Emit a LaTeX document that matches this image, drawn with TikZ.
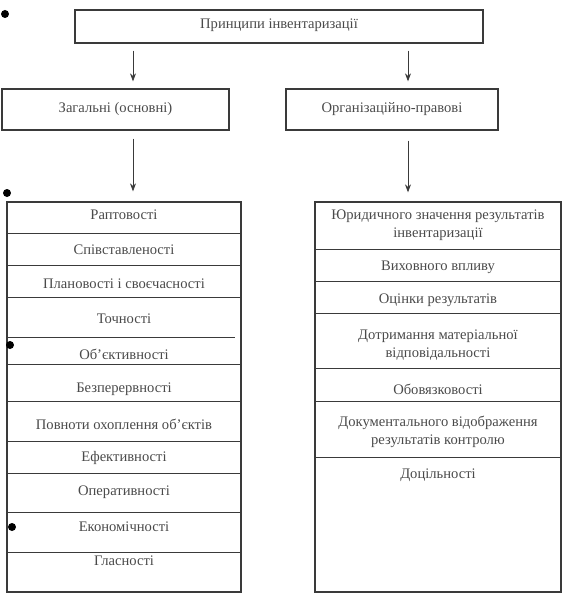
\documentclass[tikz,border=0pt]{standalone}
\usepackage{fontspec}
\setmainfont{Liberation Serif}
\usetikzlibrary{arrows.meta}
\definecolor{linec}{HTML}{3A3A3A}
\definecolor{txtc}{HTML}{4A4A4A}
\begin{document}
\begin{tikzpicture}[x=1pt,y=-1pt,
  box/.style={draw=linec, line width=1.3pt, inner sep=0pt, rectangle},
  lbl/.style={text=txtc, font=\fontsize{14.6}{18}\selectfont, align=center, inner sep=0pt},
  divider/.style={draw=linec, line width=0.7pt},
  arr/.style={draw=linec, line width=0.8pt, -{Stealth[length=8pt,width=6pt]}},
  blot/.style={fill=black, draw=none, circle, minimum size=8pt, inner sep=0pt}]
\useasboundingbox (0,0) rectangle (577,604);
% top level
\node[box, minimum width=408pt, minimum height=33pt] (top) at (279,26.5) {};
\node[lbl] (topt) at (279,25) {Принципи інвентаризації};
\node[box, minimum width=227pt, minimum height=41pt] (gen) at (115.5,109.5) {};
\node[lbl] (gent) at (115.5,109) {Загальні (основні)};
\node[box, minimum width=212pt, minimum height=41pt] (org) at (392,109.5) {};
\node[lbl] (orgt) at (392,109) {Організаційно-правові};
% lists
\node[box, minimum width=234pt, minimum height=390pt] (llist) at (124,397) {};
\node[box, minimum width=246pt, minimum height=390pt] (rlist) at (438,397) {};
% arrow columns
\coordinate (cl) at (133,0);
\coordinate (cr) at (408,0);
\draw[arr] ([yshift=-7pt]top.south -| cl) -- ([yshift=7pt]gen.north -| cl);
\draw[arr] ([yshift=-7pt]top.south -| cr) -- ([yshift=7pt]org.north -| cr);
\draw[arr] ([yshift=-8pt]gen.south -| cl) -- ([yshift=10pt]llist.north -| cl);
\draw[arr] ([yshift=-10pt]org.south -| cr) -- ([yshift=9pt]rlist.north -| cr);
% left dividers
\foreach \y in {233,265,297,364,401,441,473,512,552}{
  \draw[divider] (llist.west |- 0,\y) -- (llist.east |- 0,\y);
}
\draw[divider] (llist.west |- 0,337) -- (235,337);
% left rows
\node[lbl] (l1) at (124,215) {Раптовості};
\node[lbl] (l2) at (124,250) {Співставленості};
\node[lbl] (l3) at (124,284) {Плановості і своєчасності};
\node[lbl] (l4) at (124,319) {Точності};
\node[lbl] (l5) at (124,354) {Об'єктивності};
\node[lbl] (l6) at (124,389) {Безперервності};
\node[lbl] (l7) at (124,424) {Повноти охоплення об'єктів};
\node[lbl] (l8) at (124,458) {Ефективності};
\node[lbl] (l9) at (124,492) {Оперативності};
\node[lbl] (l10) at (124,527) {Економічності};
\node[lbl] (l11) at (124,561) {Гласності};
% right dividers
\foreach \y in {249,281,313,368,401,457}{
  \draw[divider] (rlist.west |- 0,\y) -- (rlist.east |- 0,\y);
}
% right rows
\node[lbl] (r1) at (438,225) {Юридичного значення результатів\\інвентаризації};
\node[lbl] (r2) at (438,267) {Виховного впливу};
\node[lbl] (r3) at (438,300) {Оцінки результатів};
\node[lbl] (r4) at (438,345) {Дотримання матеріальної\\відповідальності};
\node[lbl] (r5) at (438,389) {Обовязковості};
\node[lbl] (r6) at (438,432) {Документального відображення\\результатів контролю};
\node[lbl] (r7) at (438,475) {Доцільності};
% scan blots
\node[blot] (b1) at (5,14) {};
\node[blot] (b2) at (7,193) {};
\node[blot] (b3) at (10,345) {};
\node[blot] (b4) at (12,527) {};
\end{tikzpicture}
\end{document}
